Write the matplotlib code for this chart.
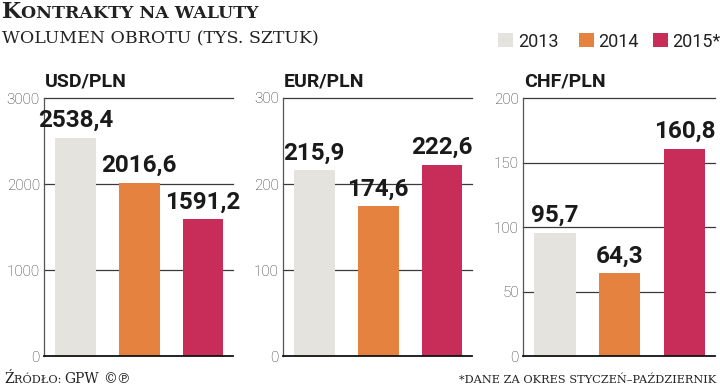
import matplotlib
matplotlib.use("Agg")
import matplotlib.pyplot as plt
from matplotlib.patches import Rectangle

# ---- data ----
years = ["2013", "2014", "2015*"]
pairs = ["USD/PLN", "EUR/PLN", "CHF/PLN"]
usd_values = [2538.4, 2016.6, 1591.2]
eur_values = [215.9, 174.6, 222.6]
chf_values = [95.7, 64.3, 160.8]
usd_ticks = [0, 1000, 2000, 3000]
eur_ticks = [0, 100, 200, 300]
chf_ticks = [0, 50, 100, 150, 200]
title_text = "Kontrakty na waluty"
subtitle_text = "WOLUMEN OBROTU (TYS. SZTUK)"
source_text = "Źródło: GPW ©℗"
note_text = "*dane za okres styczeń–październik"

colors = ["#E4E3DD", "#E5823F", "#C72D58"]
W, H = 720, 389
fig = plt.figure(figsize=(7.2, 3.89), dpi=100)
fig.patch.set_facecolor("white")

def fx(px):
    return px / W

def fy(py):
    return 1 - py / H

panels = [
    (pairs[0], usd_values, usd_ticks, 44, 189),
    (pairs[1], eur_values, eur_ticks, 283, 189),
    (pairs[2], chf_values, chf_ticks, 523, 192),
]
top_px, bot_px = 98, 356

def fmt(v):
    return f"{v:.1f}".replace(".", ",")

for name, vals, ticks, left, width in panels:
    ax = fig.add_axes([fx(left), fy(bot_px), width / W, (bot_px - top_px) / H])
    ax.set_facecolor("none")
    x = range(len(vals))
    for t in ticks[1:]:
        ax.axhline(t, color="#3a3a3a", lw=0.9, zorder=1, clip_on=False)
    ax.bar(x, vals, width=0.64, color=colors, zorder=2)
    ax.set_xlim(-0.49, 2.47)
    ax.set_ylim(0, ticks[-1])
    ax.set_yticks(ticks)
    ax.set_yticklabels([str(t) for t in ticks], family="Roboto", fontweight="light",
                       fontsize=11, color="#333333")
    ax.tick_params(axis="y", length=0, pad=3)
    ax.set_xticks([])
    for s in ["top", "right"]:
        ax.spines[s].set_visible(False)
    ax.spines["left"].set_color("#555555")
    ax.spines["left"].set_linewidth(0.9)
    ax.spines["bottom"].set_color("#111111")
    ax.spines["bottom"].set_linewidth(1.3)
    for xi, v in zip(x, vals):
        ax.annotate(fmt(v), (xi, v), xytext=(0, 7.5), textcoords="offset points",
                    ha="center", va="baseline", family="Roboto", fontweight="bold",
                    fontsize=17.5, color="#1a1a1a", zorder=3)
    fig.text(fx(left + 1), fy(87), name, family="Roboto", fontweight="bold",
             fontsize=14, color="#1a1a1a", va="baseline", ha="left")

renderer = fig.canvas.get_renderer()

def smallcaps(xpx, ypx, s, big, small, ha="left", weight="normal", color="#222222"):
    runs = []
    cur, cur_big = "", None
    for ch in s:
        isbig = ch.isupper() or ch in "©℗"
        if cur_big is None or isbig == cur_big:
            cur += ch
            cur_big = isbig
        else:
            runs.append((cur, cur_big))
            cur, cur_big = ch, isbig
    if cur:
        runs.append((cur, cur_big))
    texts = []
    for r, isbig in runs:
        t = fig.text(0, fy(ypx), r.upper(), fontsize=big if isbig else small,
                     family=["DejaVu Serif", "DejaVu Sans"], fontweight=weight,
                     color=color, va="baseline", ha="left")
        texts.append(t)
    widths = [t.get_window_extent(renderer).width for t in texts]
    total = sum(widths)
    start = xpx if ha == "left" else xpx - total
    pos = start
    for t, w in zip(texts, widths):
        t.set_x(fx(pos))
        pos += w

smallcaps(2, 18, title_text, 16, 12.5, weight="bold")
fig.text(fx(2), fy(43), subtitle_text, family="DejaVu Serif", fontsize=12.5,
         color="#222222", va="baseline", ha="left")
smallcaps(4, 383, source_text, 10, 8.2)
smallcaps(716, 383, note_text, 10, 8.2, ha="right")

# legend
leg_items = [(498, 518), (579, 598), (653, 672)]
for (sx, tx), c, lab in zip(leg_items, colors, years):
    fig.patches.append(Rectangle((fx(sx), fy(47)), 15 / W, 14 / H, transform=fig.transFigure,
                                 facecolor=c, edgecolor="none"))
    fig.text(fx(tx), fy(47), lab, family="Roboto", fontsize=13, color="#222222",
             va="baseline", ha="left")

fig.savefig("out.png", dpi=100)
